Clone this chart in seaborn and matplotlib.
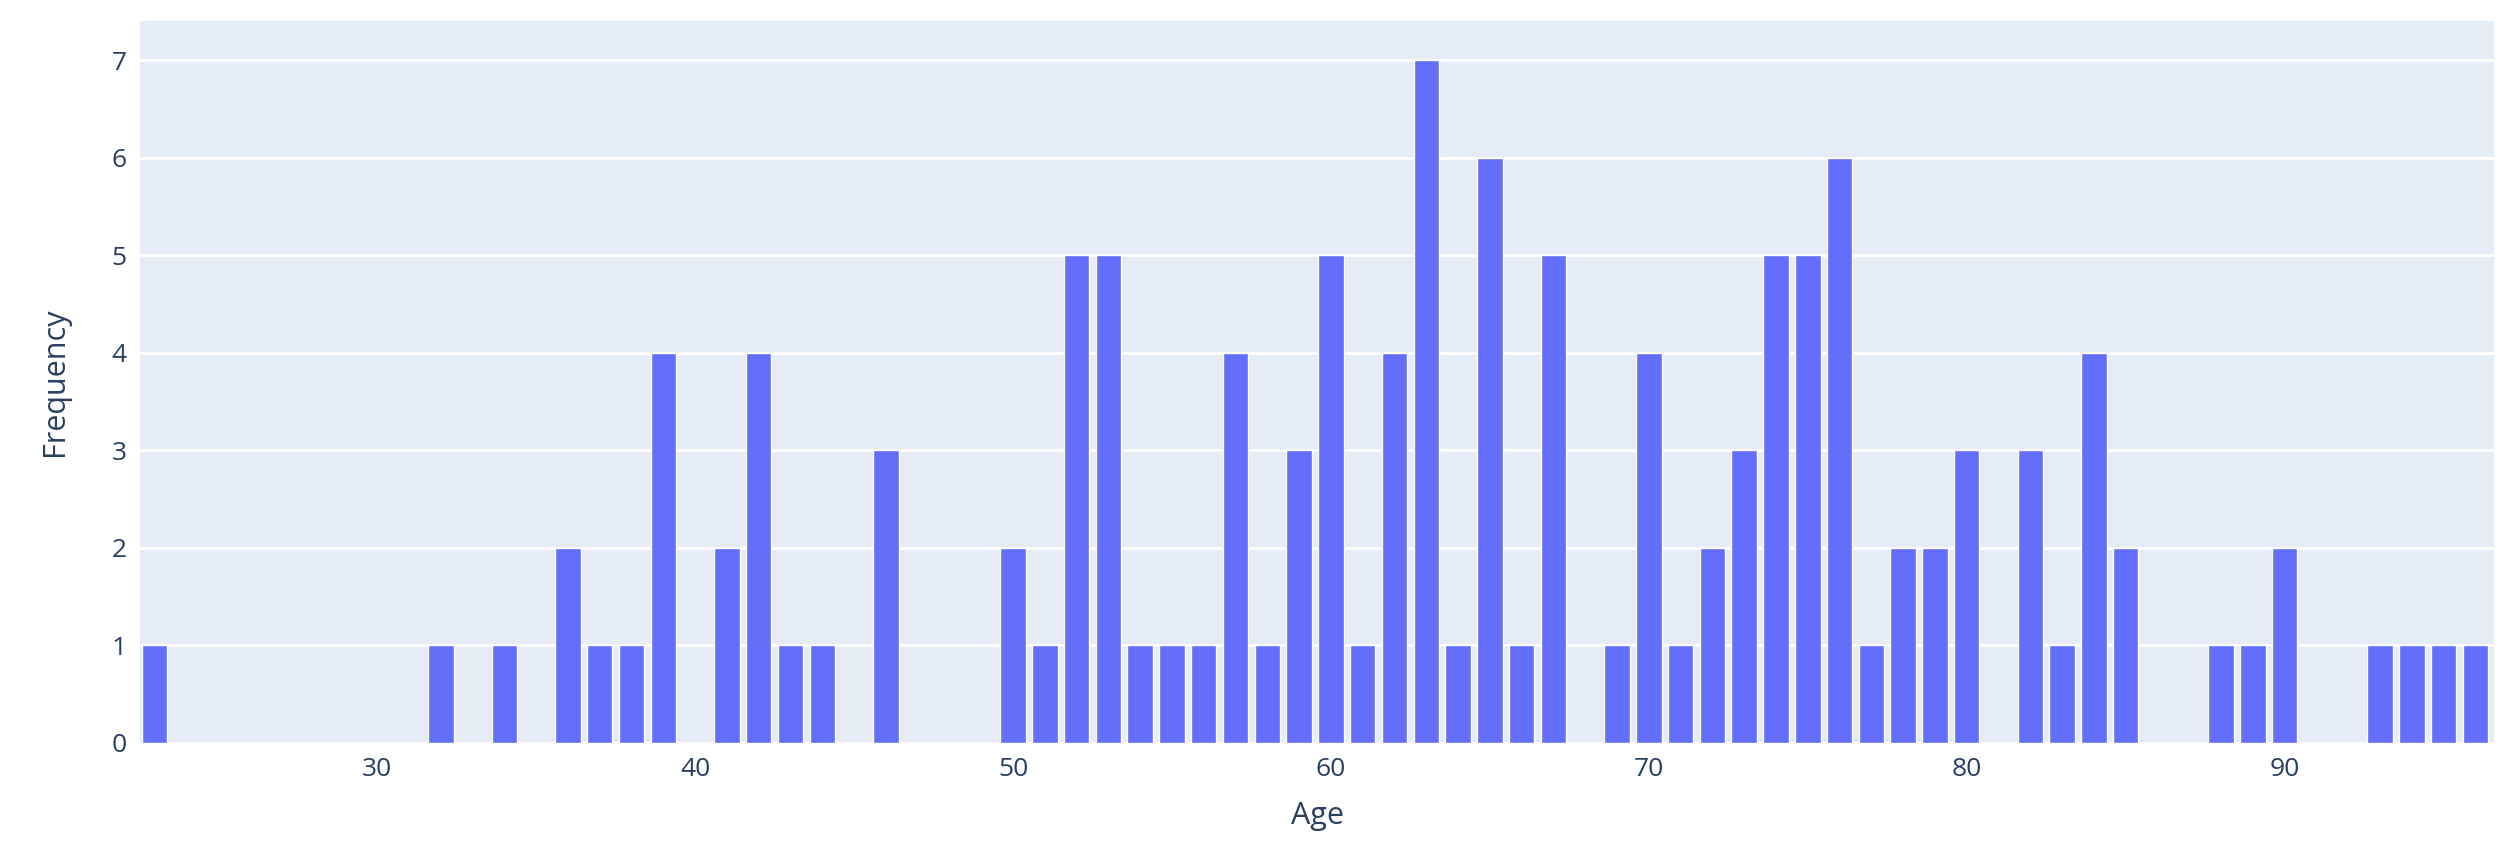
import matplotlib
matplotlib.use("Agg")
import matplotlib.pyplot as plt
import seaborn as sns
import pandas as pd

ages = [23, 32, 34, 36, 37, 38, 39, 41, 42, 43, 44, 46, 50, 51, 52, 53, 54, 55, 56, 57,
        58, 59, 60, 61, 62, 63, 64, 65, 66, 67, 69, 70, 71, 72, 73, 74, 75, 76, 77, 78,
        79, 80, 82, 83, 84, 85, 88, 89, 90, 93, 94, 95, 96]
freq = [1, 1, 1, 2, 1, 1, 4, 2, 4, 1, 1, 3, 2, 1, 5, 5, 1, 1, 1, 4,
        1, 3, 5, 1, 4, 7, 1, 6, 1, 5, 1, 4, 1, 2, 3, 5, 5, 6, 1, 2,
        2, 3, 3, 1, 4, 2, 1, 1, 2, 1, 1, 1, 1]
df = pd.DataFrame({"Age": ages, "Frequency": freq})

sns.set_theme(style="white")
plt.rcParams['font.family'] = ['Open Sans', 'DejaVu Sans']
fig = plt.figure(figsize=(25.07, 8.49), dpi=100)
ax = fig.add_axes([0.056, 0.125, 0.939, 0.85])
ax.set_facecolor("#E5ECF6")
sns.barplot(data=df, x="Age", y="Frequency", native_scale=True, color="#636EFA",
            saturation=1, width=0.8, ax=ax, zorder=3)
ax.set_xlim(22.55, 96.6)
ax.set_ylim(0, 7.4)
ax.set_yticks(range(0, 8))
ax.set_xticks(range(30, 91, 10))
ax.grid(axis="y", color="white", linewidth=2, zorder=0)
ax.set_axisbelow(True)
for s in ax.spines.values():
    s.set_visible(False)
ax.tick_params(axis="both", labelsize=19, colors="#2a3f5f", length=0, pad=10)
ax.set_xlabel("Age", fontsize=22, color="#2a3f5f", labelpad=14)
ax.set_ylabel("Frequency", fontsize=22, color="#2a3f5f", labelpad=30)
fig.savefig("out.png", dpi=100)
